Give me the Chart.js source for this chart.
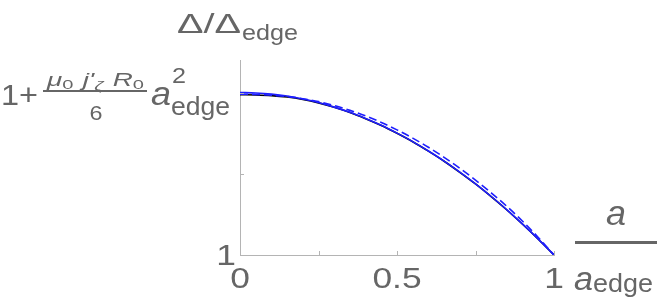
<!DOCTYPE html>
<html>
<head>
<meta charset="utf-8">
<script src="https://cdn.jsdelivr.net/npm/chart.js@4"></script>
<style>
  html, body { margin: 0; padding: 0; background: #fff; }
  #wrap { width: 664px; height: 308px; }
</style>
</head>
<body>
<div id="wrap"><canvas id="chart" width="664" height="308"></canvas></div>
<script>
// radius a / a_edge
const radius = [0, 0.05, 0.1, 0.15, 0.2, 0.25, 0.3, 0.35, 0.4, 0.45, 0.5, 0.55, 0.6, 0.65, 0.7, 0.75, 0.8, 0.85, 0.9, 0.95, 1];
// values measured as fraction of the way from 1 up to 1 + mu0 j' R0 a^2 / 6
const blackSolid = [0.986, 0.985, 0.981, 0.972, 0.957, 0.936, 0.909, 0.877, 0.839, 0.797, 0.749, 0.697, 0.639, 0.577, 0.509, 0.437, 0.359, 0.277, 0.189, 0.097, 0];
const blueSolid = [1.0, 0.997, 0.99, 0.978, 0.96, 0.938, 0.91, 0.878, 0.84, 0.798, 0.75, 0.698, 0.64, 0.578, 0.51, 0.438, 0.36, 0.278, 0.19, 0.098, 0];
const blueDashed = [0.99, 0.988, 0.983, 0.975, 0.962, 0.944, 0.92, 0.89, 0.856, 0.816, 0.77, 0.719, 0.663, 0.601, 0.534, 0.461, 0.383, 0.299, 0.208, 0.108, 0];

const xTicks = [0, 0.25, 0.5, 0.75, 1];
const xTickLabels = ['0', '', '0.5', '', '1'];
const yTicks = [0, 0.5, 1];

const textColor = '#666666';
const axisColor = '#b4b4b4';

function pts(ys) {
  return radius.map((x, i) => ({ x: x, y: ys[i] }));
}

function setFont(ctx, size, italic) {
  ctx.font = (italic ? 'italic ' : '') + size + 'px "Liberation Sans", Arial, sans-serif';
}

// draw a list of text runs starting at x, squeezed/stretched to width w if given
function runs(ctx, list, x, y, w, align) {
  let total = 0;
  list.forEach(r => {
    setFont(ctx, r.size, r.it);
    total += ctx.measureText(r.t).width + (r.dx || 0);
  });
  const sx = w ? w / total : 1;
  let left = x;
  if (align === 'center') left = x - total * sx / 2;
  if (align === 'right') left = x - total * sx;
  ctx.save();
  ctx.translate(left, y);
  ctx.scale(sx, 1);
  ctx.textAlign = 'left';
  let cx = 0;
  list.forEach(r => {
    setFont(ctx, r.size, r.it);
    cx += (r.dx || 0);
    ctx.fillText(r.t, cx, r.dy || 0);
    cx += ctx.measureText(r.t).width;
  });
  ctx.restore();
  return left + total * sx;
}

const decor = {
  id: 'decor',
  afterDraw(chart) {
    const ctx = chart.ctx;
    const xs = chart.scales.x, ys = chart.scales.y;
    const area = chart.chartArea;
    ctx.save();

    // tick marks pointing inward
    ctx.strokeStyle = axisColor;
    ctx.lineWidth = 1;
    xTicks.forEach(v => {
      const px = Math.round(xs.getPixelForValue(v)) + 0.5;
      ctx.beginPath();
      ctx.moveTo(px, area.bottom);
      ctx.lineTo(px, area.bottom - 4);
      ctx.stroke();
    });
    yTicks.forEach(v => {
      const py = Math.round(ys.getPixelForValue(v)) + 0.5;
      ctx.beginPath();
      ctx.moveTo(area.left, py);
      ctx.lineTo(area.left + 4, py);
      ctx.stroke();
    });

    ctx.fillStyle = textColor;
    ctx.textBaseline = 'alphabetic';

    // x tick labels (wide glyphs, like the original)
    const tickSx = 1.22;
    xTicks.forEach((v, i) => {
      const t = xTickLabels[i];
      if (!t) return;
      setFont(ctx, 29, false);
      const w = ctx.measureText(t).width * tickSx;
      runs(ctx, [{ t: t, size: 29 }], xs.getPixelForValue(v), 288, w, 'center');
    });

    // y tick label "1"
    setFont(ctx, 29, false);
    runs(ctx, [{ t: '1', size: 29 }], area.left - 4, ys.getPixelForValue(0) + 10, ctx.measureText('1').width * tickSx, 'right');

    // y tick label 1 + mu0 j'_zeta R0 / 6 a_edge^2
    runs(ctx, [{ t: '1+', size: 30 }], 1, 105, 37);
    runs(ctx, [
      { t: 'μ', size: 18, it: true },
      { t: '0', size: 13, dy: 3 },
      { t: 'j\'', size: 18, it: true, dx: 6 },
      { t: 'ζ', size: 13, it: true, dy: 4 },
      { t: 'R', size: 18, it: true, dx: 6 },
      { t: '0', size: 13, dy: 3 }
    ], 47, 86, 97);
    ctx.fillRect(43, 90, 104, 2);
    runs(ctx, [{ t: '6', size: 21 }], 96, 120, 13, 'center');
    runs(ctx, [{ t: 'a', size: 33, it: true }], 151, 105, 20);
    runs(ctx, [{ t: '2', size: 22 }], 172, 83, 14);
    runs(ctx, [{ t: 'edge', size: 26 }], 171, 115, 59);

    // y axis title
    runs(ctx, [{ t: 'Δ/Δ', size: 28 }], 177, 33, 64);
    runs(ctx, [{ t: 'edge', size: 22 }], 242, 40, 56);

    // x axis title a / a_edge
    runs(ctx, [{ t: 'a', size: 35, it: true }], 616, 225, 20, 'center');
    ctx.fillRect(575, 241, 82, 3);
    runs(ctx, [{ t: 'a', size: 33, it: true }], 574, 290, 19);
    runs(ctx, [{ t: 'edge', size: 26 }], 593, 292, 60);

    ctx.restore();
  }
};

const ctx = document.getElementById('chart').getContext('2d');
const chart = new Chart(ctx, {
  type: 'line',
  data: {
    datasets: [
      {
        label: 'blue dashed',
        data: pts(blueDashed),
        borderColor: '#1e1eff',
        borderWidth: 1.6,
        borderDash: [8, 4],
        pointRadius: 0,
        cubicInterpolationMode: 'monotone'
      },
      {
        label: 'blue',
        data: pts(blueSolid),
        borderColor: '#1e1eff',
        borderWidth: 1.6,
        pointRadius: 0,
        cubicInterpolationMode: 'monotone'
      },
      {
        label: 'black',
        data: pts(blackSolid),
        borderColor: '#000000',
        borderWidth: 1.6,
        pointRadius: 0,
        cubicInterpolationMode: 'monotone'
      }
    ]
  },
  options: {
    responsive: false,
    animation: false,
    events: [],
    layout: { padding: { left: 240, top: 60, right: 110, bottom: 53 } },
    plugins: {
      legend: { display: false },
      tooltip: { enabled: false }
    },
    scales: {
      x: {
        type: 'linear',
        min: 0,
        max: 1,
        ticks: { display: false },
        grid: { display: false, drawTicks: false },
        border: { display: true, color: axisColor, width: 1 }
      },
      y: {
        type: 'linear',
        min: 0,
        max: 1.2,
        ticks: { display: false },
        grid: { display: false, drawTicks: false },
        border: { display: true, color: axisColor, width: 1 }
      }
    }
  },
  plugins: [decor]
});
</script>
</body>
</html>
